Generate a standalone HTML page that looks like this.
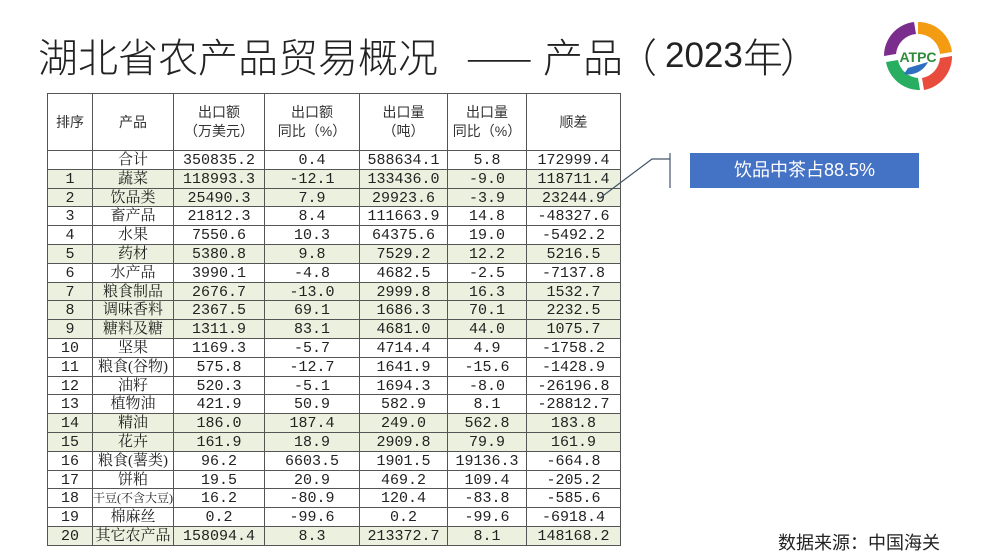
<!DOCTYPE html>
<html><head><meta charset="utf-8"><style>
body{margin:0;width:989px;height:556px;background:#fff;position:relative;overflow:hidden;font-family:"Liberation Sans","Noto Sans CJK SC",sans-serif}
.t{position:absolute;top:30px;font-size:40px;line-height:50px;color:#222;white-space:nowrap;font-weight:300;font-family:"Noto Sans CJK SC",sans-serif}
table{position:absolute;left:47px;top:93px;border-collapse:collapse;font-family:"Liberation Mono","Noto Serif CJK SC",serif;font-size:15px;color:#222}
td{border:1px solid #555;text-align:center;padding:2px 0 0 0;height:15.8px;line-height:15.8px;white-space:nowrap;overflow:hidden}
td:nth-child(2){font-family:"Liberation Serif","Noto Serif CJK SC",serif;font-size:15px}
tr.h td{height:56px;padding:0;line-height:19px;font-family:"Liberation Sans","Noto Sans CJK SC",sans-serif;font-size:14px;color:#333}
tr.g td{background:#ebf1de}
.box{position:absolute;left:690px;top:153px;width:229px;height:35px;background:#4472c4;color:#fff;font-size:18px;line-height:35px;text-align:center}
.src{position:absolute;left:778px;top:529px;font-size:18px;color:#222}
</style></head><body>
<div class="t" style="left:38px">湖北省农产品贸易概况</div>
<div class="t" style="left:466px">——</div>
<div class="t" style="left:543px">产品</div>
<div class="t" style="left:617px">（</div>
<div class="t" style="left:665px;font-family:'Liberation Sans',sans-serif;font-size:35px;top:31px">2023</div>
<div class="t" style="left:743px">年</div>
<div class="t" style="left:780px">）</div>
<svg style="position:absolute;left:880px;top:18px" width="76" height="76" viewBox="0 0 76 76">
<path d="M38 4 A34 34 0 0 1 72 34 L60 36 A22 22 0 0 0 38 16Z" fill="#f39c12"/>
<path d="M72 38 A34 34 0 0 1 44 72 L42 60 A22 22 0 0 0 60 40Z" fill="#e74c3c"/>
<path d="M40 72 A34 34 0 0 1 6 44 L18 42 A22 22 0 0 0 38 60Z" fill="#27ae60"/>
<path d="M4 38 A34 34 0 0 1 34 4 L36 16 A22 22 0 0 0 16 36Z" fill="#7b2d8e"/>
<path d="M48 44 A22 22 0 0 1 24 56 L28 50Z" fill="#2e6fc0"/>
<text x="38" y="44" font-size="14" font-weight="bold" fill="#2e8b3a" text-anchor="middle" font-family="Liberation Sans">ATPC</text>
</svg>
<table>
<colgroup><col style="width:45px"><col style="width:80px"><col style="width:91px"><col style="width:95px"><col style="width:88px"><col style="width:79px"><col style="width:94px"></colgroup>
<tr class="h"><td>排序</td><td>产品</td><td>出口额<br>（万美元）</td><td>出口额<br>同比（%）</td><td>出口量<br>（吨）</td><td>出口量<br>同比（%）</td><td>顺差</td></tr>
<tr><td></td><td>合计</td><td>350835.2</td><td>0.4</td><td>588634.1</td><td>5.8</td><td>172999.4</td></tr>
<tr class="g"><td>1</td><td>蔬菜</td><td>118993.3</td><td>-12.1</td><td>133436.0</td><td>-9.0</td><td>118711.4</td></tr>
<tr class="g"><td>2</td><td>饮品类</td><td>25490.3</td><td>7.9</td><td>29923.6</td><td>-3.9</td><td>23244.9</td></tr>
<tr><td>3</td><td>畜产品</td><td>21812.3</td><td>8.4</td><td>111663.9</td><td>14.8</td><td>-48327.6</td></tr>
<tr><td>4</td><td>水果</td><td>7550.6</td><td>10.3</td><td>64375.6</td><td>19.0</td><td>-5492.2</td></tr>
<tr class="g"><td>5</td><td>药材</td><td>5380.8</td><td>9.8</td><td>7529.2</td><td>12.2</td><td>5216.5</td></tr>
<tr><td>6</td><td>水产品</td><td>3990.1</td><td>-4.8</td><td>4682.5</td><td>-2.5</td><td>-7137.8</td></tr>
<tr class="g"><td>7</td><td>粮食制品</td><td>2676.7</td><td>-13.0</td><td>2999.8</td><td>16.3</td><td>1532.7</td></tr>
<tr class="g"><td>8</td><td>调味香料</td><td>2367.5</td><td>69.1</td><td>1686.3</td><td>70.1</td><td>2232.5</td></tr>
<tr class="g"><td>9</td><td>糖料及糖</td><td>1311.9</td><td>83.1</td><td>4681.0</td><td>44.0</td><td>1075.7</td></tr>
<tr><td>10</td><td>坚果</td><td>1169.3</td><td>-5.7</td><td>4714.4</td><td>4.9</td><td>-1758.2</td></tr>
<tr><td>11</td><td>粮食(谷物)</td><td>575.8</td><td>-12.7</td><td>1641.9</td><td>-15.6</td><td>-1428.9</td></tr>
<tr><td>12</td><td>油籽</td><td>520.3</td><td>-5.1</td><td>1694.3</td><td>-8.0</td><td>-26196.8</td></tr>
<tr><td>13</td><td>植物油</td><td>421.9</td><td>50.9</td><td>582.9</td><td>8.1</td><td>-28812.7</td></tr>
<tr class="g"><td>14</td><td>精油</td><td>186.0</td><td>187.4</td><td>249.0</td><td>562.8</td><td>183.8</td></tr>
<tr class="g"><td>15</td><td>花卉</td><td>161.9</td><td>18.9</td><td>2909.8</td><td>79.9</td><td>161.9</td></tr>
<tr><td>16</td><td>粮食(薯类)</td><td>96.2</td><td>6603.5</td><td>1901.5</td><td>19136.3</td><td>-664.8</td></tr>
<tr><td>17</td><td>饼粕</td><td>19.5</td><td>20.9</td><td>469.2</td><td>109.4</td><td>-205.2</td></tr>
<tr><td>18</td><td style="font-size:12px">干豆(不含大豆)</td><td>16.2</td><td>-80.9</td><td>120.4</td><td>-83.8</td><td>-585.6</td></tr>
<tr><td>19</td><td>棉麻丝</td><td>0.2</td><td>-99.6</td><td>0.2</td><td>-99.6</td><td>-6918.4</td></tr>
<tr class="g"><td>20</td><td>其它农产品</td><td>158094.4</td><td>8.3</td><td>213372.7</td><td>8.1</td><td>148168.2</td></tr>
</table>
<svg style="position:absolute;left:0;top:0" width="989" height="556"><polyline points="670,153 670,188" stroke="#44546a" fill="none" stroke-width="1.2"/><polyline points="670,159 652,159 600,198" stroke="#44546a" fill="none" stroke-width="1.2"/></svg>
<div class="box">饮品中茶占88.5%</div>
<div class="src">数据来源：中国海关</div>
</body></html>
